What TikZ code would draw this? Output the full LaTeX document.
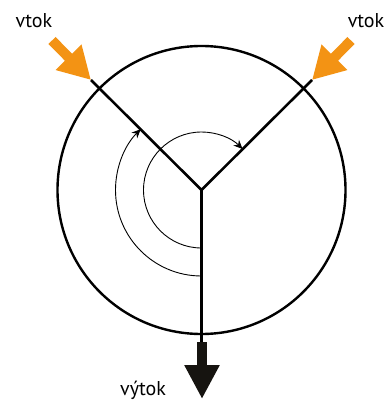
\documentclass[tikz,border=0pt]{standalone}
\usepackage{fontspec}
\setmainfont{PT Sans}
\usetikzlibrary{arrows.meta,calc}
\definecolor{inflow}{HTML}{F39314}
\definecolor{outflow}{HTML}{161410}
\tikzset{
  wall/.style={line width=2.6pt, black},
  rim/.style={line width=2.4pt, black},
  angarc/.style={line width=0.9pt, black, -{Stealth[length=9pt,width=8pt]}},
  inarrow/.style={line width=10pt, inflow, -{Triangle[length=32pt,width=34pt]}},
  outarrow/.style={line width=10pt, outflow, -{Triangle[length=34pt,width=33pt]}},
  lbl/.style={font=\fontsize{20}{24}\selectfont, inner sep=0pt}
}
\begin{document}
\begin{tikzpicture}[x=1pt,y=-1pt]
\useasboundingbox (0,0) rectangle (389,406);
\coordinate (J) at (201.5,190);
\node[circle, draw, rim, minimum size=288pt, inner sep=0pt] (C) at (J) {};
\coordinate (L) at (91,80);
\coordinate (R) at (312,80);
\coordinate (B) at (202,342);
\coordinate (Bt) at (202,399);
\coordinate (Lt) at (52,40.5);
\coordinate (Rt) at (351,40.5);
% walls
\draw[wall, line cap=butt] (L) -- (J) -- (R);
\draw[wall] (J) -- (J |- B);
% angle arcs
\draw[angarc] ($(J)+(0,58)$) arc[start angle=270, end angle=45, radius=58pt];
\draw[angarc] ($(J)+(0,86)$) arc[start angle=270, end angle=135, radius=86pt];
% flow arrows
\draw[inarrow] (Lt) -- (L);
\draw[inarrow] (Rt) -- (R);
\draw[outarrow] (B) -- (Bt);
% labels
\node[lbl] (t1) at (34,21) {vtok};
\node[lbl] (t2) at (366,21) {vtok};
\node[lbl] (t3) at (143,390) {výtok};
\end{tikzpicture}
\end{document}
